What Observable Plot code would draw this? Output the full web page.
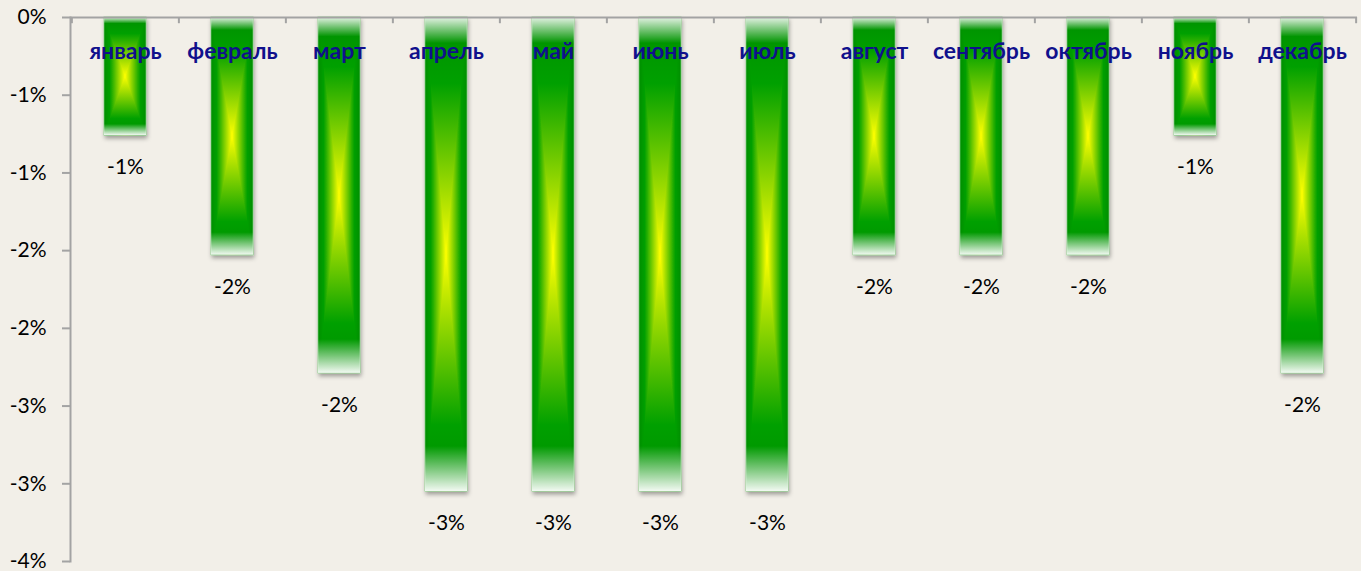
<!DOCTYPE html>
<html>
<head>
<meta charset="utf-8">
<script src="https://cdn.jsdelivr.net/npm/d3@7"></script>
<script src="https://cdn.jsdelivr.net/npm/@observablehq/plot@0.6"></script>
<style>
  html, body { margin: 0; padding: 0; background: #F2EFE8; }
  #chart svg { display: block; }
</style>
</head>
<body>
<div id="chart"></div>
<script>
// ---- data ----
const months = ["январь","февраль","март","апрель","май","июнь","июль","август","сентябрь","октябрь","ноябрь","декабрь"];
const values = [-0.76, -1.53, -2.29, -3.05, -3.05, -3.05, -3.05, -1.53, -1.53, -1.53, -0.76, -2.29];
const yTicks = [0, -0.5, -1, -1.5, -2, -2.5, -3, -3.5];

const data = months.map((m, i) => ({month: m, value: values[i]}));

// Excel-like percent format with 0 decimals (rounds half away from zero)
const pct = v => v === 0 ? "0%" : (v < 0 ? "-" : "") + Math.round(Math.abs(v)) + "%";

const W = 1361, H = 571;
const mL = 70, mR = 4, mT = 17, mB = 10;
const step = (W - mL - mR) / months.length;

const defsMark = () => {
  const g = d3.create("svg:g");
  const defs = g.append("defs");
  const stops = [[0, "#008E00"], [0.14, "#00A000"], [0.5, "#FFFF00"], [0.86, "#00A000"], [1, "#008E00"]];
  const gh = defs.append("linearGradient").attr("id", "gH").attr("x1", 0).attr("x2", 1).attr("y1", 0).attr("y2", 0);
  stops.forEach(([o, c]) => gh.append("stop").attr("offset", o).attr("stop-color", c));
  const gv = defs.append("linearGradient").attr("id", "gV").attr("x1", 0).attr("x2", 0).attr("y1", 0).attr("y2", 1);
  stops.forEach(([o, c]) => gv.append("stop").attr("offset", o).attr("stop-color", c));
  const gw = defs.append("linearGradient").attr("id", "gW").attr("x1", 0).attr("x2", 0).attr("y1", 0).attr("y2", 1);
  [[0, 0.9], [0.055, 0], [0.905, 0], [1, 0.95]].forEach(([o, a]) =>
    gw.append("stop").attr("offset", o).attr("stop-color", "#FFFFFF").attr("stop-opacity", a));
  const cp = defs.append("clipPath").attr("id", "tri").attr("clipPathUnits", "objectBoundingBox");
  cp.append("polygon").attr("points", "0,0 1,0 0.5,0.5");
  cp.append("polygon").attr("points", "0,1 1,1 0.5,0.5");
  const f = defs.append("filter").attr("id", "shadow").attr("x", "-30%").attr("y", "-10%").attr("width", "160%").attr("height", "130%");
  f.append("feDropShadow").attr("dx", 1).attr("dy", 3).attr("stdDeviation", 2).attr("flood-color", "#000").attr("flood-opacity", 0.35);
  return g.node();
};

const chart = Plot.plot({
  width: W,
  height: H,
  marginLeft: mL,
  marginRight: mR,
  marginTop: mT,
  marginBottom: mB,
  style: {background: "#F2EFE8", fontFamily: "Lato, 'Open Sans', sans-serif", color: "#000"},
  x: {type: "band", domain: months, paddingInner: 0.61, paddingOuter: 0.305, axis: null},
  y: {domain: [-3.5, 0], ticks: yTicks, axis: null},
  marks: [
    defsMark,
    // bars: base horizontal gradient, then vertical gradient clipped to top/bottom triangles, then white bevel
    Plot.barY(data, {x: "month", y: "value", fill: "url(#gH)", stroke: "#7CCB7C", strokeWidth: 1, strokeOpacity: 0.7, ariaDescription: "base"}),
    Plot.barY(data, {x: "month", y: "value", fill: "url(#gV)", ariaDescription: "vert"}),
    Plot.barY(data, {x: "month", y: "value", fill: "url(#gW)", ariaDescription: "bevel"}),
    // axes
    Plot.frame({anchor: "left", stroke: "#A3A3A3", strokeWidth: 2}),
    Plot.ruleY([0], {stroke: "#A3A3A3", strokeWidth: 2}),
    Plot.ruleX(months, {x: d => d, y1: 0, y2: -0.04, dx: -step / 2, stroke: "#A3A3A3", strokeWidth: 2}),
    Plot.ruleX(months.slice(-1), {x: d => d, y1: 0, y2: -0.04, dx: step / 2, stroke: "#A3A3A3", strokeWidth: 2}),
    Plot.axisY(yTicks, {tickSize: 8, tickPadding: 16, tickFormat: pct, stroke: "#A3A3A3", strokeWidth: 2, fontSize: 21, fill: "#000", label: null}),
    // category labels
    Plot.text(data, {x: "month", y: () => 0, text: "month", dy: 34, fontSize: 23, fontWeight: "bold", fill: "#10108C"}),
    // value labels
    Plot.text(data, {x: "month", y: "value", text: d => pct(d.value), dy: 32, fontSize: 21, fill: "#000"})
  ]
});

const svg = d3.select(chart);
svg.select('g[aria-description="base"]').attr("filter", "url(#shadow)");
svg.selectAll('g[aria-description="vert"] rect').attr("clip-path", "url(#tri)");
document.getElementById("chart").appendChild(chart);
</script>
</body>
</html>
